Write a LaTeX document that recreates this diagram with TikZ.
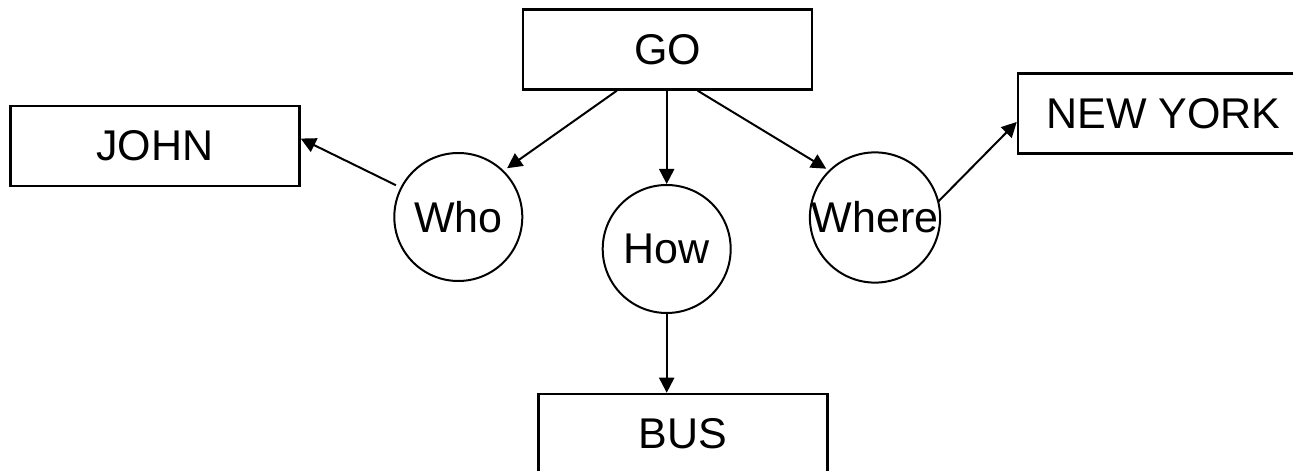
\documentclass[tikz,border=0pt]{standalone}
\usepackage{fontspec}
\setmainfont{Liberation Sans}
\usetikzlibrary{arrows.meta,calc}

\tikzset{
  concept/.style={draw, line width=2.5pt, minimum width=289pt, minimum height=80pt,
                  inner sep=0pt, font=\fontsize{43}{50}\selectfont},
  role/.style={draw, circle, line width=2pt, minimum size=128pt, inner sep=0pt,
               font=\fontsize{43}{50}\selectfont},
  link/.style={line width=2pt, -{Triangle[length=15pt,width=15pt]}}
}

\begin{document}
\begin{tikzpicture}[x=1pt,y=1pt]
  \useasboundingbox (0,0) rectangle (1293,471);
  \fill[white] (0,0) rectangle (1293,471);
  \clip (0,0) rectangle (1293,471);

  % concept boxes
  \node[concept] (go)   at (667.5,421.5) {GO};
  \node[concept] (john) at (155,325)     {JOHN};
  \node[concept, minimum width=291pt] (ny) at (1163.5,357.3) {NEW YORK};
  \node[concept] (bus)  at (683,37)      {BUS};

  % role circles
  \node[role] (who)   at (458.3,254)   {Who};
  \node[role] (how)   at (666.7,222)   {How};
  \node[role] (where) at (875,253.5)   {Where};

  % GO to its roles
  \draw[link] ([xshift=95pt]go.south west)  -- ($(who.center)+(45:69)$);
  \draw[link] (how.north |- go.south)       -- (how.north);
  \draw[link] ([xshift=176pt]go.south west) -- ($(where.center)+(135:69)$);

  % roles to their fillers
  \draw[link] ($(who.center)+(153:70)$) -- ($(john.south east)!0.59!(john.north east)$);
  \draw[link] (how.south) -- (how.south |- bus.north);
  \draw[link] ($(where.center)+(14:65)$) -- ($(ny.south west)!0.4!(ny.north west)$);
\end{tikzpicture}
\end{document}
